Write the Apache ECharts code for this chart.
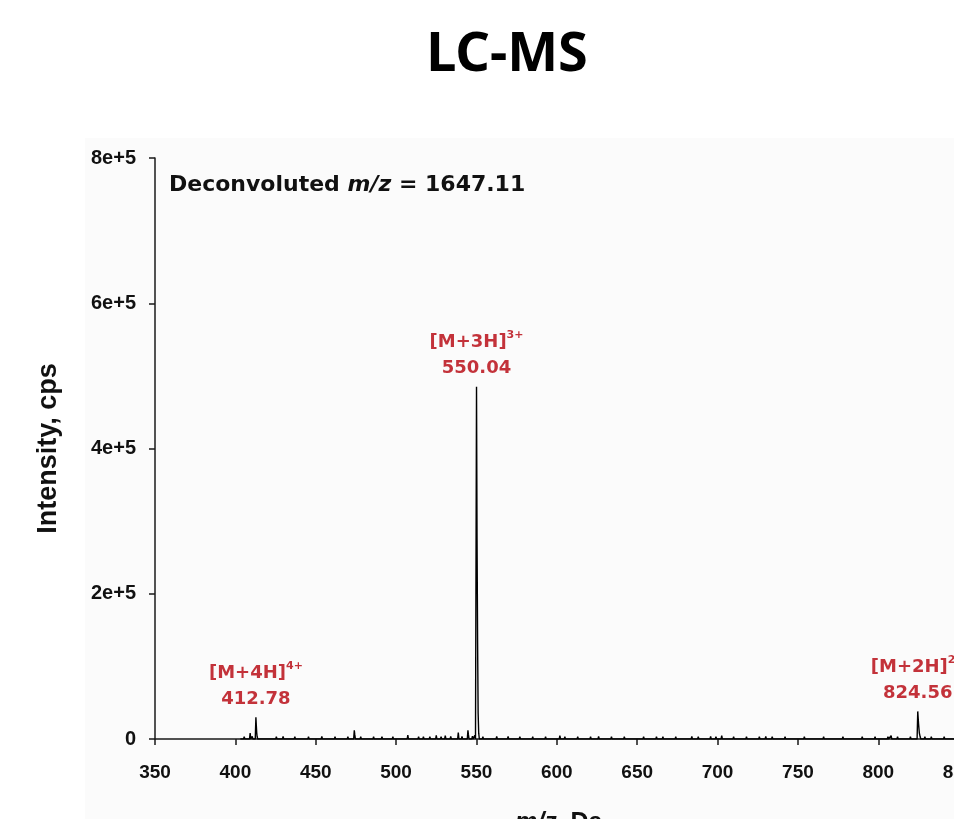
<!DOCTYPE html>
<html>
<head>
<meta charset="utf-8">
<script src="https://cdn.jsdelivr.net/npm/echarts@6/dist/echarts.min.js"></script>
<style>
  html, body { margin: 0; padding: 0; background: #ffffff; }
  #chart { width: 954px; height: 819px; }
</style>
</head>
<body>
<div id="chart"></div>
<script>
// ---- Data ----
const peakMz = [
  403.5, 405.5, 409.2, 410.5, 412.78, 413.03, 413.28, 413.53, 417, 421, 425.5, 429.7, 433, 437, 441, 445.5, 449,
  453.8, 458, 462, 466, 470, 474.0, 474.3, 478, 482, 486, 491.2, 494, 498, 502, 507.3, 511, 514, 517,
  521, 525, 528, 530.6, 534, 538.7, 541, 544.7, 545.0, 547.5, 549.0,
  550.04, 550.37, 550.71, 551.04, 551.4,
  554, 558, 562.6, 566, 569.7, 573, 577, 581, 585, 589, 593, 597, 601.9, 605, 609, 613, 617, 621, 626,
  630, 634, 638, 642, 646, 650, 654, 658, 662, 666, 670, 674, 678, 684, 688, 692, 695.7, 699, 702.6,
  706, 710, 714, 718, 722, 726, 730, 734, 738, 742, 746, 750, 754, 758, 762, 766, 770, 774, 778, 782,
  786, 790, 794, 798, 802, 806, 808, 812, 816, 820,
  824.56, 825.06, 825.56, 826.06,
  829, 833, 837, 841, 845, 849, 853, 857, 861
];
const peakIntensity = [
  2000, 3000, 8000, 3500, 30000, 19000, 9000, 3500, 2500, 2500, 3000, 3500, 2500, 3000, 2500, 3000, 2500,
  3500, 2500, 3000, 2500, 3000, 12000, 6000, 3000, 2500, 3000, 3200, 2500, 3200, 2500, 5500, 2500, 3000, 3000,
  3000, 5000, 3000, 4500, 3500, 9000, 3500, 12000, 6000, 4000, 5000,
  485000, 275000, 134000, 36000, 8000,
  3000, 2500, 3500, 2500, 3500, 2500, 3000, 2500, 3000, 2500, 3000, 2500, 4500, 3000, 2500, 3000, 2500, 3000, 3500,
  2500, 3000, 2500, 3000, 2500, 2500, 3000, 2500, 3000, 3000, 2500, 3000, 2500, 3500, 3000, 2500, 3500, 3000, 4500,
  2500, 3000, 2500, 3000, 2500, 3000, 3500, 3000, 2500, 3000, 2500, 2500, 3000, 2500, 2500, 3000, 2500, 2500, 3000, 2500,
  2500, 3000, 2500, 3000, 2500, 3000, 4500, 3000, 2500, 3000,
  38000, 21000, 8000, 3000,
  3000, 3000, 2500, 3000, 2500, 3000, 2500, 3000, 2500
];

// annotated ions
const ionLabels = ['[M+4H]', '[M+3H]', '[M+2H]'];
const ionCharges = ['4+', '3+', '2+'];
const ionMz = [412.78, 550.04, 824.56];
const ionIntensity = [30000, 485000, 38000];

const xTickLabels = ['350','400','450','500','550','600','650','700','750','800','850','900'];
const yTickLabels = ['0', '2e+5', '4e+5', '6e+5', '8e+5'];
const deconvolutedMass = '1647.11';

// ---- build the stick/profile line from the peak list ----
const lineData = [];
lineData.push([peakMz[0] - 0.4, 0]);
for (let i = 0; i < peakMz.length; i++) {
  lineData.push([peakMz[i], peakIntensity[i]]);
  const next = peakMz[i + 1];
  if (next === undefined) {
    lineData.push([peakMz[i] + 0.4, 0]);
  } else if (next - peakMz[i] > 0.9) {
    lineData.push([peakMz[i] + 0.4, 0]);
    lineData.push([next - 0.4, 0]);
  }
}

const labelData = ionMz.map((m, i) => ({
  value: [m, ionIntensity[i]],
  ion: ionLabels[i],
  charge: ionCharges[i]
}));

const chart = echarts.init(document.getElementById('chart'), null, { renderer: 'canvas' });
const redColor = '#b5000a';
const titleFont = '"Noto Sans", "Open Sans", sans-serif';
const wideFont = '"DejaVu Sans", sans-serif';
const axisFont = '"Liberation Sans", Arial, sans-serif';

const option = {
  animation: false,
  backgroundColor: '#ffffff',
  graphic: [
    { type: 'rect', z: -10, silent: true,
      shape: { x: 85, y: 138, width: 900, height: 700 },
      style: { fill: '#fbfbfb' } }
  ],
  title: [
    { text: 'LC-MS', left: 502, top: 24, textAlign: 'center',
      textStyle: { fontFamily: titleFont, fontWeight: 'bold', fontSize: 54, color: '#000' } },
    { text: '{n|Deconvoluted }{i|m/z}{n| = ' + deconvolutedMass + '}', left: 164, top: 169,
      textStyle: { rich: {
        n: { fontFamily: wideFont, fontWeight: 'bold', fontSize: 22, color: '#111' },
        i: { fontFamily: wideFont, fontWeight: 'bold', fontStyle: 'italic', fontSize: 22, color: '#111' }
      } } },
    { text: '{i|m/z}{n|, Da}', left: 510, top: 806,
      textStyle: { rich: {
        n: { fontFamily: axisFont, fontWeight: 'bold', fontSize: 25, color: '#111' },
        i: { fontFamily: axisFont, fontWeight: 'bold', fontStyle: 'italic', fontSize: 25, color: '#111' }
      } } }
  ],
  grid: { left: 155, top: 158, width: 884, height: 581, containLabel: false, outerBoundsMode: 'none' },
  xAxis: {
    type: 'value', min: 350, max: 900, interval: 50,
    axisLine: { show: true, lineStyle: { color: '#1a1a1a', width: 1.5 } },
    axisTick: { show: true, length: 6, lineStyle: { color: '#1a1a1a', width: 1.5 } },
    splitLine: { show: false },
    axisLabel: {
      margin: 24, color: '#111', fontSize: 19, fontWeight: 'bold', fontFamily: axisFont,
      formatter: (v) => { const idx = Math.round((v - 350) / 50); return xTickLabels[idx] ?? ''; }
    }
  },
  yAxis: {
    type: 'value', min: 0, max: 800000, interval: 200000,
    name: 'Intensity, cps', nameLocation: 'middle', nameGap: 93, nameRotate: 90,
    nameTextStyle: { fontFamily: axisFont, fontWeight: 'bold', fontSize: 27, color: '#111' },
    axisLine: { show: true, lineStyle: { color: '#1a1a1a', width: 1.5 } },
    axisTick: { show: true, length: 6, lineStyle: { color: '#1a1a1a', width: 1.5 } },
    splitLine: { show: false },
    axisLabel: {
      margin: 19, color: '#111', fontSize: 20, fontWeight: 'bold', fontFamily: axisFont,
      formatter: (v) => yTickLabels[Math.round(v / 200000)] ?? ''
    }
  },
  series: [
    {
      type: 'line', data: lineData, symbol: 'none', showSymbol: false,
      lineStyle: { color: '#000', width: 1.4 }, z: 3, clip: true
    },
    {
      type: 'scatter', data: labelData, symbolSize: 0, z: 4, silent: true,
      label: {
        show: true, position: 'top', distance: 5,
        formatter: (p) => '{a|' + p.data.ion + '}{s|' + p.data.charge + '}\n{a|' + p.value[0].toFixed(2) + '}',
        rich: {
          a: { fontFamily: wideFont, fontWeight: 'bold', fontSize: 18, color: redColor, lineHeight: 26, align: 'center' },
          s: { fontFamily: wideFont, fontWeight: 'bold', fontSize: 11, color: redColor, verticalAlign: 'top', lineHeight: 26, padding: [0, 0, 8, 0] }
        }
      }
    }
  ]
};
chart.setOption(option);
</script>
</body>
</html>
